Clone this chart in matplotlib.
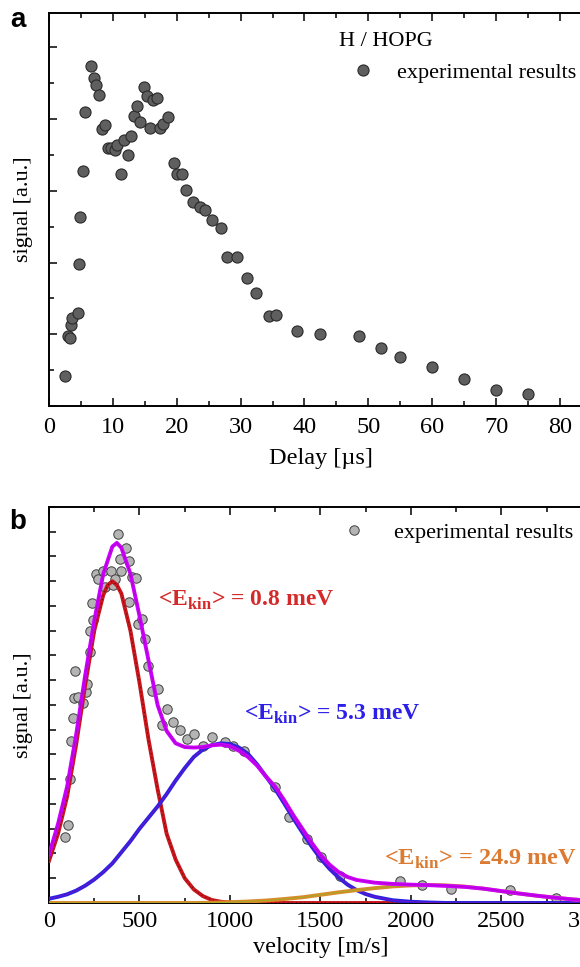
import matplotlib
matplotlib.use("Agg")
import matplotlib.pyplot as plt
from matplotlib.lines import Line2D
from matplotlib.ticker import MultipleLocator, NullFormatter

# --- Fonts ---
plt.rcParams['font.family'] = ['Liberation Serif', 'DejaVu Serif']
plt.rcParams['mathtext.fontset'] = 'custom'
plt.rcParams['mathtext.rm'] = 'Liberation Serif'
plt.rcParams['mathtext.bf'] = 'Liberation Serif:bold'

# --- Panel a: delay scan ---
delay = [2.5, 2.9, 3.3, 3.4, 3.6, 4.5, 4.7, 4.9, 5.3, 5.6, 6.5, 7.0, 7.3, 7.9, 8.3,
         8.8, 9.2, 9.7, 10.3, 10.7, 11.25, 11.8, 12.3, 12.8, 13.3, 13.85, 14.3, 14.9,
         15.3, 15.8, 16.3, 16.9, 17.4, 17.9, 18.6, 19.5, 20.0, 20.8, 21.5, 22.5, 23.7,
         24.5, 25.5, 27.0, 27.9, 29.4, 31.0, 32.4, 34.5, 35.5, 38.9, 42.5, 48.5, 52.0,
         55.0, 60.0, 65.0, 70.0, 75.0]
signal_a = [0.85, 1.96, 1.89, 2.26, 2.46, 2.6, 3.97, 5.27, 6.56, 8.19, 9.48, 9.14, 8.95,
            8.67, 7.71, 7.82, 7.2, 7.2, 7.14, 7.29, 6.46, 7.42, 7.01, 7.54, 8.08, 8.35,
            7.91, 8.88, 8.63, 7.75, 8.52, 8.59, 7.75, 7.85, 8.07, 6.77, 6.46, 6.47, 6.01,
            5.68, 5.54, 5.47, 5.2, 4.95, 4.15, 4.15, 3.58, 3.16, 2.52, 2.54, 2.10, 2.01,
            1.96, 1.62, 1.37, 1.08, 0.76, 0.44, 0.35]

# --- Panel b: velocity distribution ---
vel_pts = [91, 104, 116, 119, 132, 136, 142, 160, 187, 203, 211, 226, 228, 239, 244,
           259, 272, 297, 310, 343, 351, 366, 384, 394, 399, 425, 440, 444, 459, 478,
           491, 515, 530, 548, 570, 605, 622, 652, 686, 724, 762, 802, 851, 900, 972,
           1014, 1075, 1247, 1327, 1427, 1501, 1608, 1939, 2062, 2222, 2547, 2800]
signal_b = [2.67, 3.14, 4.99, 6.56, 7.46, 8.27, 9.39, 8.34, 8.07, 8.54, 8.84, 10.13,
            10.97, 12.12, 11.44, 13.31, 13.09, 13.43, 12.77, 13.4, 12.86, 13.1, 14.91,
            13.9, 13.43, 14.35, 13.8, 12.16, 13.16, 13.13, 11.28, 11.47, 10.65, 9.56,
            8.55, 8.66, 7.2, 7.83, 7.3, 6.97, 6.64, 6.82, 6.34, 6.7, 6.52, 6.33, 6.16,
            4.67, 3.46, 2.59, 1.84, 1.11, 0.87, 0.73, 0.55, 0.51, 0.21]

# fitted components
vel_red = [0, 50, 100, 150, 200, 250, 300, 325, 350, 375, 400, 450, 500, 550, 600,
           650, 700, 750, 800, 850, 900, 950, 1000, 1100, 3000]
fit_red = [1.7, 2.8, 4.3, 6.4, 8.8, 11.0, 12.45, 12.85, 13.0, 12.85, 12.5, 11.0, 8.9,
           6.6, 4.6, 2.8, 1.75, 1.0, 0.55, 0.28, 0.12, 0.05, 0.02, 0.0, 0.0]

vel_blue = [0, 50, 100, 150, 200, 250, 300, 350, 400, 450, 500, 550, 600, 650, 700,
            750, 800, 850, 900, 950, 1000, 1050, 1100, 1150, 1200, 1250, 1300, 1350,
            1400, 1450, 1500, 1550, 1600, 1650, 1700, 1750, 1800, 1900, 2000, 2100,
            2200, 3000]
fit_blue = [0.17, 0.25, 0.35, 0.5, 0.7, 0.95, 1.25, 1.6, 2.05, 2.5, 3.0, 3.45, 3.9,
            4.4, 4.95, 5.45, 5.9, 6.2, 6.38, 6.45, 6.42, 6.28, 6.02, 5.6, 5.1, 4.6,
            4.02, 3.42, 2.85, 2.3, 1.8, 1.38, 1.03, 0.74, 0.52, 0.36, 0.25, 0.11, 0.05,
            0.02, 0.0, 0.0]

vel_orange = [0, 800, 900, 1000, 1100, 1200, 1300, 1400, 1500, 1600, 1700, 1800,
              1900, 2000, 2100, 2200, 2300, 2400, 2500, 2600, 2700, 2800, 2900, 3000]
fit_orange = [0.0, 0.0, 0.01, 0.03, 0.06, 0.1, 0.16, 0.23, 0.33, 0.43, 0.52, 0.6,
              0.67, 0.71, 0.73, 0.71, 0.66, 0.58, 0.48, 0.38, 0.29, 0.21, 0.14, 0.09]

vel_sum = [0, 50, 100, 150, 200, 250, 300, 350, 375, 400, 450, 500, 550, 600, 650,
           700, 750, 800, 850, 900, 950, 1000, 1050, 1100, 1150, 1200, 1250, 1300,
           1350, 1400, 1450, 1500, 1550, 1600, 1650, 1700, 1800, 1900, 2000, 2100,
           2200, 2300, 2400, 2500, 2600, 2700, 2800, 2900, 3000]
fit_sum = [1.95, 3.2, 4.7, 6.8, 9.2, 11.4, 13.3, 14.4, 14.55, 14.35, 13.3, 11.6, 9.8,
           8.0, 6.95, 6.45, 6.3, 6.28, 6.3, 6.37, 6.4, 6.33, 6.15, 5.9, 5.55, 5.1, 4.7,
           4.15, 3.55, 3.0, 2.45, 1.95, 1.55, 1.25, 1.05, 0.93, 0.82, 0.77, 0.74, 0.72,
           0.69, 0.65, 0.58, 0.48, 0.38, 0.29, 0.21, 0.14, 0.09]

labels_b = ["<E$_\\mathbf{kin}$> = 0.8 meV", "<E$_\\mathbf{kin}$> = 5.3 meV",
            "<E$_\\mathbf{kin}$> = 24.9 meV"]

# --- Figure (axes run past the right edge, like the cropped original) ---
fig = plt.figure(figsize=(5.8, 9.67), dpi=100)
ax_a = fig.add_axes([0.0845, 0.580, 0.936, 0.4064])
ax_b = fig.add_axes([0.0845, 0.0662, 0.936, 0.4095])

for ax in (ax_a, ax_b):
    for s in ax.spines.values():
        s.set_linewidth(1.4)
    ax.tick_params(which='both', direction='in', top=True, right=False,
                   width=1.1, labelsize=17.5)
    ax.tick_params(which='major', length=6)
    ax.tick_params(which='minor', length=3.5)
    ax.yaxis.set_major_formatter(NullFormatter())

# panel a
ax_a.plot(delay, signal_a, 'o', ms=8, mfc='#5f5f5f', mec='#2a2a2a', mew=0.8)
ax_a.set_xlim(0, 85)
ax_a.set_ylim(0, 10.95)
ax_a.xaxis.set_major_locator(MultipleLocator(10))
ax_a.xaxis.set_minor_locator(MultipleLocator(5))
ax_a.yaxis.set_major_locator(MultipleLocator(2))
ax_a.yaxis.set_minor_locator(MultipleLocator(1))
ax_a.tick_params(axis='x', which='both', pad=8)
ax_a.set_xlabel("Delay [µs]", fontsize=17.5, labelpad=7)
ax_a.set_ylabel("signal [a.u.]", fontsize=16)
ax_a.yaxis.set_label_coords(-0.03, 0.5)
h_a = Line2D([], [], ls='none', marker='o', ms=8, mfc='#5f5f5f', mec='#2a2a2a', mew=0.8)
leg_a = ax_a.legend([h_a], ["experimental results"], title="H / HOPG", loc='upper right',
                    bbox_to_anchor=(0.995, 0.985), frameon=False, fontsize=16,
                    title_fontsize=16, handletextpad=0.4, handlelength=2.2,
                    borderaxespad=0.2)
leg_a._legend_box.align = "left"

# panel b
ax_b.plot(vel_pts, signal_b, 'o', ms=6.8, mfc='#b4b4b4', mec='#404040', mew=0.7, zorder=2)
ax_b.plot(vel_red, fit_red, color='#c8161d', lw=2.8, zorder=3)
ax_b.plot(vel_red, fit_red, color='#3a0000', lw=0.6, ls=(0, (1, 4)), zorder=3)
ax_b.plot(vel_blue, fit_blue, color='#2b22e0', lw=2.8, zorder=3)
ax_b.plot(vel_blue, fit_blue, color='#7a10c8', lw=0.6, zorder=3)
ax_b.plot(vel_orange, fit_orange, color='#d98a2b', lw=2.8, zorder=4)
ax_b.plot(vel_orange, fit_orange, color='#9cb020', lw=0.6, zorder=4)
ax_b.plot(vel_sum, fit_sum, color='#cc00ff', lw=2.8, zorder=5)
ax_b.plot(vel_sum, fit_sum, color='#b000c8', lw=0.6, zorder=5)
ax_b.set_xlim(0, 3000)
ax_b.set_ylim(0, 16)
ax_b.xaxis.set_major_locator(MultipleLocator(500))
ax_b.xaxis.set_minor_locator(MultipleLocator(250))
ax_b.yaxis.set_major_locator(MultipleLocator(2))
ax_b.yaxis.set_minor_locator(MultipleLocator(1))
ax_b.tick_params(which='both', axis='y', length=5)
ax_b.tick_params(axis='x', which='both', pad=5.5)
ax_b.set_xlabel("velocity [m/s]", fontsize=17.5, labelpad=4)
ax_b.set_ylabel("signal [a.u.]", fontsize=16)
ax_b.yaxis.set_label_coords(-0.03, 0.5)
h_b = Line2D([], [], ls='none', marker='o', ms=6.8, mfc='#b4b4b4', mec='#404040', mew=0.7)
ax_b.legend([h_b], ["experimental results"], loc='upper right',
            bbox_to_anchor=(0.99, 0.995), frameon=False, fontsize=16,
            handletextpad=1.0, handlelength=1.6, borderaxespad=0.2)

ax_b.text(602, 12.0, labels_b[0], color='#d42a2a', fontsize=17, fontweight='bold',
          va='baseline')
ax_b.text(1080, 7.4, labels_b[1], color='#2d1fe8', fontsize=17, fontweight='bold',
          va='baseline')
ax_b.text(1850, 1.55, labels_b[2], color='#db7a30', fontsize=17.5, fontweight='bold',
          va='baseline')

# panel letters
fig.text(0.031, 0.979, "a", fontsize=20, fontweight='bold', family='Liberation Sans',
         ha='center', va='center')
fig.text(0.031, 0.460, "b", fontsize=20, fontweight='bold', family='Liberation Sans',
         ha='center', va='center')

fig.savefig("out.png", dpi=100)
